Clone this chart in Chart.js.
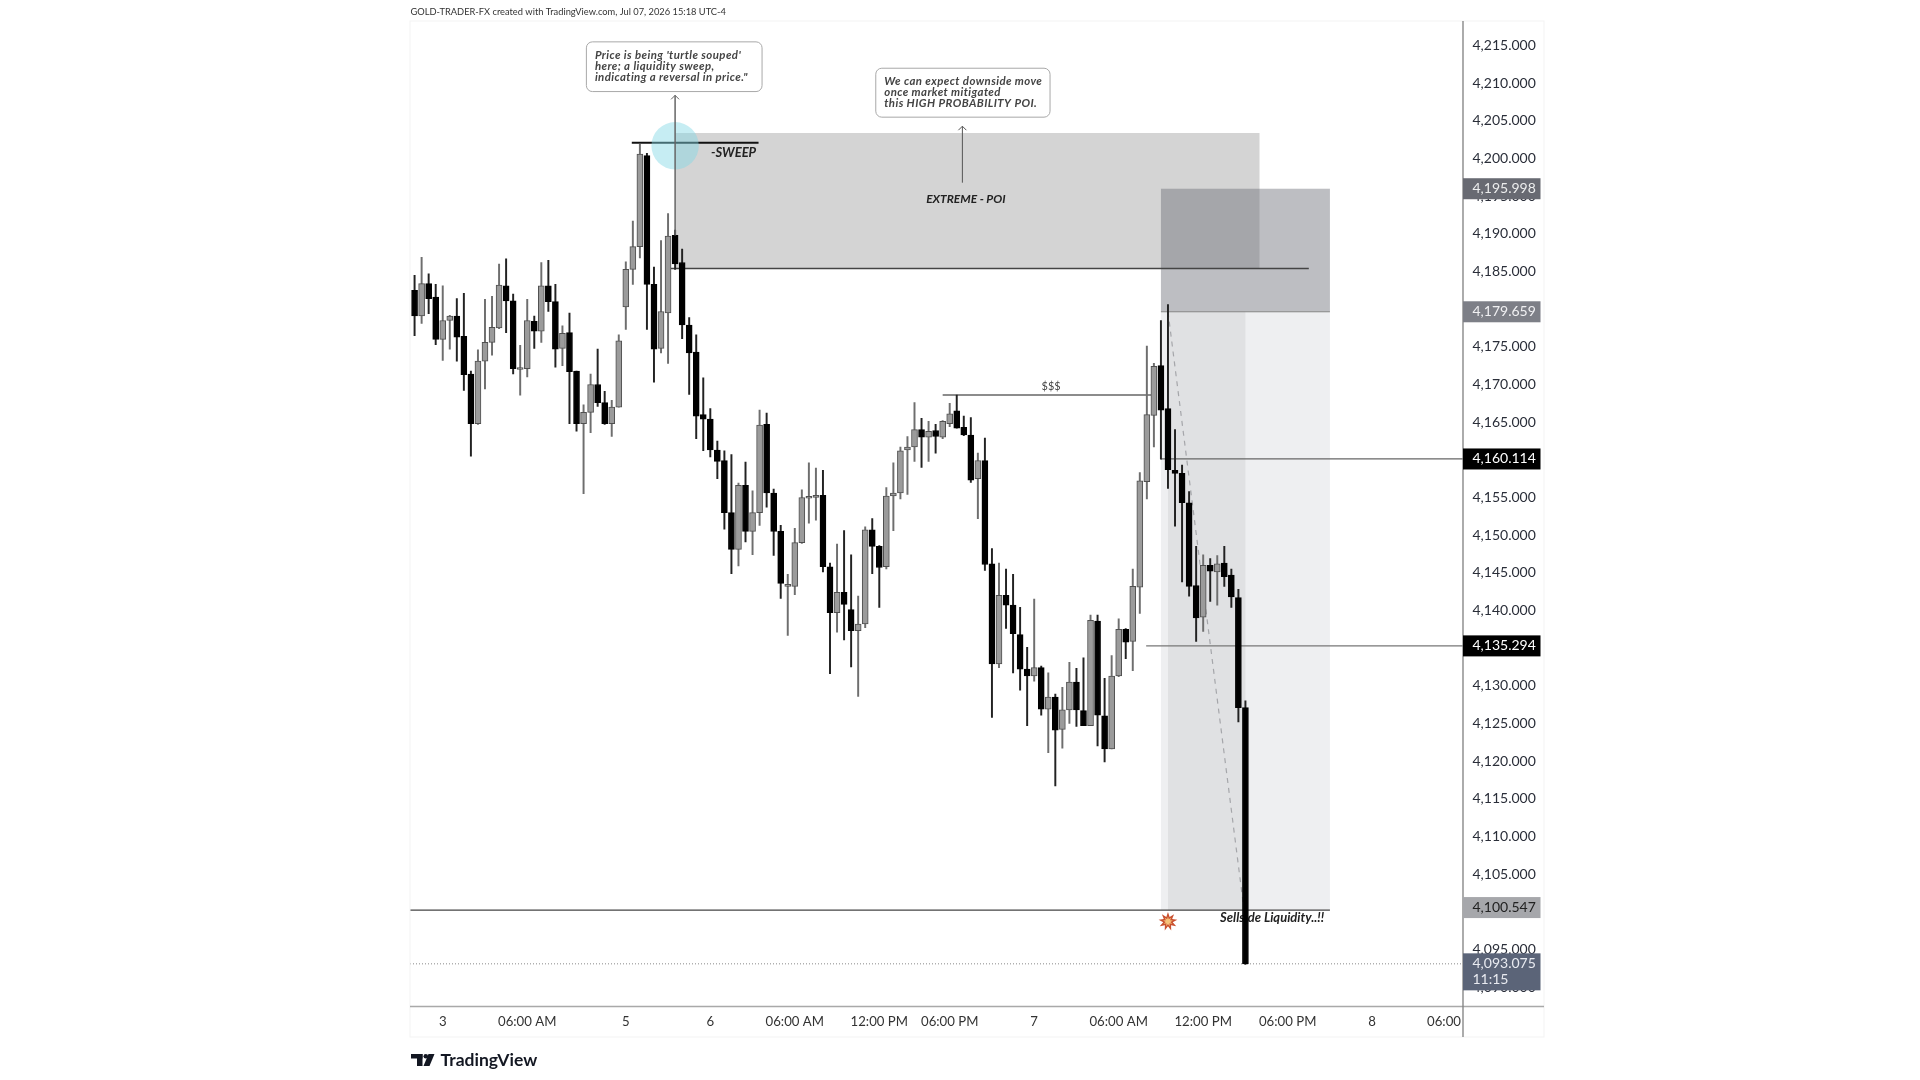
<!DOCTYPE html>
<html>
<head>
<meta charset="utf-8">
<title>XAUUSD 30m</title>
<script src="https://cdn.jsdelivr.net/npm/chart.js@4"></script>
<style>
  html, body { margin: 0; padding: 0; background: #fff; }
  canvas { display: block; }
</style>
</head>
<body>
<canvas id="chart" width="1920" height="1080"></canvas>
<script>
// 30 minute candles
const opens = [4182.5,4179.1,4183.4,4181.6,4176.0,4178.5,4179.1,4176.4,4171.4,4164.8,4173.1,4175.6,4177.5,4183.1,4181.1,4172.0,4172.1,4178.4,4177.1,4183.1,
  4181.0,4174.8,4176.9,4171.8,4164.8,4166.3,4170.0,4167.6,4164.8,4167.0,4180.3,4185.3,4188.3,4200.4,4183.3,4174.8,4179.5,4189.8,4186.2,4177.9,
  4174.3,4166.0,4165.4,4161.3,4159.9,4153.0,4148.1,4156.6,4150.5,4153.0,4164.7,4155.6,4150.5,4143.2,4143.2,4149.0,4154.9,4155.0,4155.3,4145.8,
  4139.7,4142.4,4140.1,4137.3,4138.2,4150.7,4148.5,4145.8,4155.2,4155.6,4161.3,4161.7,4164.0,4163.0,4163.9,4163.0,4164.8,4166.5,4164.3,4163.3,
  4157.5,4159.9,4146.2,4132.9,4142.0,4140.7,4136.8,4132.2,4131.3,4132.4,4126.9,4128.5,4124.2,4126.8,4130.5,4126.7,4124.7,4138.6,4126.0,4121.6,
  4131.3,4137.5,4135.9,4143.1,4157.1,4165.9,4172.5,4166.8,4158.6,4158.2,4154.3,4143.3,4139.1,4146.0,4145.1,4146.3,4144.7,4141.7,4127.1];
const highs = [4184.5,4186.9,4184.7,4183.3,4183.1,4179.2,4181.4,4182.1,4171.8,4174.6,4181.3,4181.7,4186.0,4186.7,4182.0,4175.2,4181.3,4179.1,4186.2,4186.5,
  4183.3,4177.8,4179.5,4171.8,4167.3,4171.4,4174.7,4169.1,4167.9,4176.6,4186.3,4191.7,4201.9,4200.7,4185.6,4189.1,4192.7,4190.5,4188.0,4178.9,
  4176.6,4170.9,4166.8,4162.5,4161.2,4160.7,4156.9,4159.7,4155.9,4166.6,4166.2,4156.1,4151.3,4144.8,4150.9,4156.0,4159.6,4158.9,4158.6,4146.3,
  4148.8,4150.6,4147.4,4141.9,4151.1,4152.2,4148.6,4156.3,4159.6,4161.7,4163.1,4167.6,4165.5,4165.1,4164.7,4165.2,4167.5,4168.6,4165.8,4165.6,
  4160.9,4162.9,4148.2,4146.3,4145.5,4144.8,4140.4,4135.1,4141.5,4132.6,4131.7,4128.9,4129.8,4133.1,4132.3,4133.7,4139.4,4139.4,4131.0,4134.0,
  4138.9,4137.6,4145.5,4158.3,4175.1,4172.8,4178.5,4180.6,4164.0,4159.3,4155.8,4148.5,4147.4,4146.9,4147.3,4148.5,4145.5,4142.8,4128.0];
const lows = [4176.5,4178.1,4179.4,4175.3,4173.2,4174.7,4173.1,4169.2,4160.5,4164.7,4169.4,4173.9,4177.4,4176.9,4171.4,4168.6,4171.0,4174.8,4175.6,4179.7,
  4172.3,4172.5,4164.8,4163.8,4155.5,4163.6,4167.1,4164.7,4163.1,4167.0,4177.3,4183.3,4186.8,4177.3,4170.3,4174.2,4172.8,4185.3,4176.1,4168.7,
  4162.8,4161.2,4160.4,4157.5,4150.8,4144.9,4145.9,4149.1,4147.4,4151.3,4153.7,4147.3,4141.6,4136.7,4142.1,4148.9,4151.6,4152.0,4145.1,4131.6,
  4137.1,4136.1,4132.5,4128.6,4137.7,4144.9,4140.4,4145.5,4150.6,4154.8,4155.4,4159.8,4159.0,4159.8,4160.9,4162.8,4164.4,4164.2,4163.2,4157.0,
  4152.2,4145.3,4125.8,4132.4,4137.6,4131.7,4129.4,4124.7,4130.6,4126.1,4121.1,4116.7,4121.7,4125.0,4124.6,4124.7,4124.7,4122.0,4119.9,4121.6,
  4131.2,4133.6,4132.0,4139.6,4154.8,4161.7,4160.1,4156.2,4151.2,4143.8,4141.9,4135.9,4137.2,4141.2,4140.7,4143.2,4140.4,4125.2,4093.0];
const closes = [4179.1,4183.4,4181.4,4176.0,4178.5,4179.1,4176.3,4171.3,4164.8,4173.1,4175.6,4177.6,4183.2,4181.1,4172.1,4172.2,4178.5,4177.1,4183.1,4181.0,
  4174.7,4176.8,4171.7,4164.8,4166.3,4170.0,4167.6,4164.8,4167.0,4175.8,4185.3,4188.3,4200.6,4183.3,4174.7,4179.7,4189.7,4186.0,4177.9,4174.2,
  4165.8,4165.4,4161.3,4159.8,4153.0,4148.1,4156.6,4150.5,4153.0,4164.6,4155.6,4150.5,4143.6,4143.4,4149.0,4155.0,4155.0,4155.3,4145.8,4139.7,
  4142.4,4140.8,4137.3,4138.2,4150.7,4148.5,4145.7,4155.2,4155.6,4161.2,4161.7,4164.0,4163.0,4163.8,4163.1,4165.1,4166.1,4164.2,4163.3,4157.3,
  4159.9,4146.1,4132.9,4142.0,4140.7,4136.9,4132.2,4131.3,4132.4,4126.9,4128.5,4124.1,4126.8,4130.5,4126.8,4124.7,4138.7,4126.1,4121.6,4131.3,
  4137.5,4135.8,4143.2,4157.2,4166.0,4172.4,4166.6,4158.7,4158.2,4154.3,4143.2,4139.0,4146.0,4145.2,4146.2,4144.5,4141.8,4127.1,4093.075];

const priceTicks = [4215,4210,4205,4200,4195,4190,4185,4180,4175,4170,4165,4160,4155,4150,4145,4140,4135,4130,4125,4120,4115,4110,4105,4100,4095,4090];
const timeTicks = [4,16,30,42,54,66,76,88,100,112,124,136,146.2];
const timeLabels = ["3","06:00 AM","5","6","06:00 AM","12:00 PM","06:00 PM","7","06:00 AM","12:00 PM","06:00 PM","8","06:00"];

// price tags on the right axis
const tagValues = [4195.998,4179.659,4160.114,4135.294,4100.547];
const tagFills = ["#686a72","#7d7f87","#000000","#000000","#a6a7ab"];
const tagTexts = ["#eceded","#f0f0f2","#ffffff","#ffffff","#222222"];
const lastPrice = 4093.075;
const countdown = "11:15";

// drawings, in candle index and price
const zones = [
  [37,120,4203.4,4185.4,"#d4d4d4"],
  [106,130,4179.659,4100.2,"#eeeff1"],
  [107,118,4179.659,4100.2,"#e0e1e3"],
  [106,130,4195.998,4179.659,"rgba(104,106,115,0.44)"],
];
const hLines = [
  [30.85,48.85,4202.1,"#111111",2],
  [36.3,127,4185.4,"#444444",1.6],
  [75,105,4168.6,"#666666",1.4],
  [106,148.9,4160.114,"#666666",1.3],
  [103.9,148.9,4135.294,"#777777",1.3],
  [106,130,4179.659,"#888888",1],
  [-0.65,130,4100.2,"#444444",1.2],
];
const notes = [
  ["-SWEEP",42.1,4200.8,"left","italic bold 13px Lato","#222222"],
  ["EXTREME - POI",78.3,4194.6,"center","italic bold 11.9px Lato","#222222"],
  ["$$$",90.4,4169.8,"center","11px Lato","#444444"],
  ["Sellside Liquidity..!!",114.4,4099.2,"left","italic bold 13px Lato","#222222"],
];
const callouts = [
  [24.4,49.35,4215.5,4208.9,["Price is being 'turtle souped'","here; a liquidity sweep,","indicating a reversal in price.\""]],
  [65.5,90.25,4212.0,4205.5,["We can expect downside move","once market mitigated","this HIGH PROBABILITY POI."]],
];
const arrows = [
  [37,4189.8,4208.4,"#666666",1.5],
  [77.8,4196.8,4204.3,"#555555",1],
];

const idx = opens.map((_, i) => i);
const isDown = closes.map((c, i) => c < opens[i]);

function drawLine(ctx, x0, y0, x1, y1, color, width) {
  ctx.strokeStyle = color;
  ctx.lineWidth = width;
  ctx.beginPath();
  ctx.moveTo(x0, y0);
  ctx.lineTo(x1, y1);
  ctx.stroke();
}

const drawings = {
  id: "drawings",
  beforeDatasetsDraw(chart) {
    const { ctx, scales: { x, y } } = chart;
    ctx.save();
    zones.forEach(([a, b, p0, p1, color]) => {
      ctx.fillStyle = color;
      ctx.fillRect(x.getPixelForValue(a), y.getPixelForValue(p0),
        x.getPixelForValue(b) - x.getPixelForValue(a), y.getPixelForValue(p1) - y.getPixelForValue(p0));
    });
    hLines.forEach(([a, b, p, color, w]) => {
      drawLine(ctx, x.getPixelForValue(a), y.getPixelForValue(p), x.getPixelForValue(b), y.getPixelForValue(p), color, w);
    });
    // last price line
    ctx.setLineDash([1, 2]);
    drawLine(ctx, chart.chartArea.left, y.getPixelForValue(lastPrice), chart.chartArea.right, y.getPixelForValue(lastPrice), "#8a8a8a", 1);
    // drop from the high down to the sellside line
    ctx.setLineDash([5, 5]);
    drawLine(ctx, x.getPixelForValue(107), y.getPixelForValue(4179.659), x.getPixelForValue(117.7), y.getPixelForValue(4101), "#a5a6aa", 1.2);
    ctx.setLineDash([]);
    ctx.textBaseline = "middle";
    notes.forEach(([t, i, p, align, font, color]) => {
      ctx.font = font;
      ctx.fillStyle = color;
      ctx.textAlign = align;
      ctx.fillText(t, x.getPixelForValue(i), y.getPixelForValue(p));
    });
    ctx.restore();
  },
  afterDatasetsDraw(chart) {
    const { ctx, scales: { x, y } } = chart;
    ctx.save();
    // sweep marker
    ctx.fillStyle = "rgba(130,215,228,0.46)";
    ctx.beginPath();
    ctx.arc(x.getPixelForValue(37), y.getPixelForValue(4201.7), 23.7, 0, Math.PI * 2);
    ctx.fill();
    arrows.forEach(([i, from, to, color, w]) => {
      const ax = x.getPixelForValue(i), ay = y.getPixelForValue(to);
      drawLine(ctx, ax, y.getPixelForValue(from), ax, ay, color, w);
      ctx.lineWidth = 1;
      ctx.beginPath();
      ctx.moveTo(ax - 4, ay + 4);
      ctx.lineTo(ax, ay);
      ctx.lineTo(ax + 4, ay + 4);
      ctx.stroke();
    });
    callouts.forEach(([a, b, p0, p1, lines]) => {
      const left = x.getPixelForValue(a), top = y.getPixelForValue(p0);
      ctx.fillStyle = "#ffffff";
      ctx.strokeStyle = "#a8a8a8";
      ctx.lineWidth = 1;
      ctx.beginPath();
      ctx.roundRect(left, top, x.getPixelForValue(b) - left, y.getPixelForValue(p1) - top, 6);
      ctx.fill();
      ctx.stroke();
      ctx.font = "italic bold 11.4px Lato";
      ctx.letterSpacing = "0.42px";
      ctx.fillStyle = "#444444";
      ctx.textAlign = "left";
      ctx.textBaseline = "middle";
      lines.forEach((t, k) => ctx.fillText(t, left + 8.5, top + 13.5 + k * 11));
      ctx.letterSpacing = "0px";
    });
    // burst marker under the zone
    const sx = x.getPixelForValue(107), sy = y.getPixelForValue(4098.7);
    [[9.5, 4.8, "#c9502f"], [5, 2.4, "#f6c27a"]].forEach(([outer, inner, color]) => {
      ctx.fillStyle = color;
      ctx.beginPath();
      for (let k = 0; k < 18; k++) {
        const r = k % 2 ? inner : outer, a = k * Math.PI / 9 - Math.PI / 2;
        ctx.lineTo(sx + r * Math.cos(a), sy + r * Math.sin(a));
      }
      ctx.closePath();
      ctx.fill();
    });
    ctx.restore();
  },
  afterDraw(chart) {
    const { ctx, chartArea: area, scales: { y } } = chart;
    const axisRight = 1540.5, frameRight = 1544, frameBottom = 1037;
    ctx.save();
    // frame and axis lines
    ctx.strokeStyle = "#f3f3f3";
    ctx.lineWidth = 1;
    ctx.strokeRect(area.left, area.top, frameRight - area.left, frameBottom - area.top);
    drawLine(ctx, area.left, area.bottom, frameRight, area.bottom, "#a9a9a9", 1.5);
    drawLine(ctx, area.right, area.top, area.right, frameBottom, "#7f7f7f", 1.3);

    ctx.font = "14px Lato";
    ctx.textAlign = "left";
    ctx.textBaseline = "middle";
    tagValues.forEach((v, i) => {
      const py = y.getPixelForValue(v);
      ctx.fillStyle = tagFills[i];
      ctx.fillRect(area.right, py - 10.5, axisRight - area.right, 21);
      ctx.fillStyle = tagTexts[i];
      ctx.fillText(v.toLocaleString("en-US", { minimumFractionDigits: 3 }), 1472.5, py - 0.5);
    });
    const lp = y.getPixelForValue(lastPrice);
    ctx.fillStyle = "#5b6478";
    ctx.fillRect(area.right, lp - 10.5, axisRight - area.right, 37);
    ctx.fillStyle = "#e8eaf0";
    ctx.fillText(lastPrice.toLocaleString("en-US", { minimumFractionDigits: 3 }), 1472.5, lp - 0.5);
    ctx.fillText(countdown, 1472.5, lp + 16);

    // header and logo
    ctx.font = "9.3px Lato";
    ctx.fillStyle = "#333333";
    ctx.fillText("GOLD-TRADER-FX created with TradingView.com, Jul 07, 2026 15:18 UTC-4", 410.5, 12);
    ctx.fillStyle = "#131722";
    ctx.fillRect(411, 1054, 11.5, 4.5);
    ctx.fillRect(417, 1054, 5.5, 12);
    ctx.beginPath();
    ctx.arc(425.8, 1056.2, 2.3, 0, Math.PI * 2);
    ctx.fill();
    ctx.beginPath();
    ctx.moveTo(428.5, 1054);
    ctx.lineTo(434.5, 1054);
    ctx.lineTo(429.5, 1066);
    ctx.lineTo(423.5, 1066);
    ctx.closePath();
    ctx.fill();
    ctx.font = "bold 17.5px Lato";
    ctx.fillText("TradingView", 440.5, 1060);
    ctx.restore();
  },
};

new Chart(document.getElementById("chart"), {
  type: "bar",
  data: {
    datasets: [
      {
        // bodies
        data: idx.map((i) => ({ x: i, y: [opens[i], closes[i]] })),
        grouped: false,
        barThickness: 6,
        minBarLength: 2,
        borderSkipped: false,
        borderWidth: 1,
        backgroundColor: isDown.map((d) => (d ? "#000000" : "#9b9b9b")),
        borderColor: isDown.map((d) => (d ? "#000000" : "#505050")),
      },
      {
        // wicks
        data: idx.map((i) => ({ x: i, y: [lows[i], highs[i]] })),
        grouped: false,
        barThickness: 1.3,
        backgroundColor: isDown.map((d) => (d ? "#222222" : "#6e6e6e")),
      },
    ],
  },
  options: {
    responsive: false,
    animation: false,
    layout: { autoPadding: false, padding: { left: 410, right: 376, top: 21, bottom: 43 } },
    plugins: { legend: { display: false }, title: { display: false }, tooltip: { enabled: false } },
    scales: {
      x: {
        type: "linear",
        offset: false,
        min: -0.65,
        max: 148.9,
        afterFit: (s) => { s.height = 30.5; },
        afterBuildTicks: (s) => { s.ticks = timeTicks.map((v) => ({ value: v })); },
        grid: { display: false, drawTicks: false },
        border: { display: false },
        ticks: {
          autoSkip: false,
          maxRotation: 0,
          padding: 7,
          color: "#333333",
          font: { family: "Lato", size: 13.2 },
          callback: (v) => timeLabels[timeTicks.indexOf(v)],
        },
      },
      y: {
        position: "right",
        min: 4087.41,
        max: 4218.27,
        afterFit: (s) => { s.width = 81; },
        afterBuildTicks: (s) => { s.ticks = priceTicks.map((v) => ({ value: v })); },
        grid: { display: false, drawTicks: false },
        border: { display: false },
        ticks: {
          autoSkip: false,
          padding: 9.5,
          color: "#2a2e39",
          font: { family: "Lato", size: 14 },
          callback: (v) => v.toLocaleString("en-US", { minimumFractionDigits: 3 }),
        },
      },
    },
  },
  plugins: [drawings],
});
</script>
</body>
</html>
